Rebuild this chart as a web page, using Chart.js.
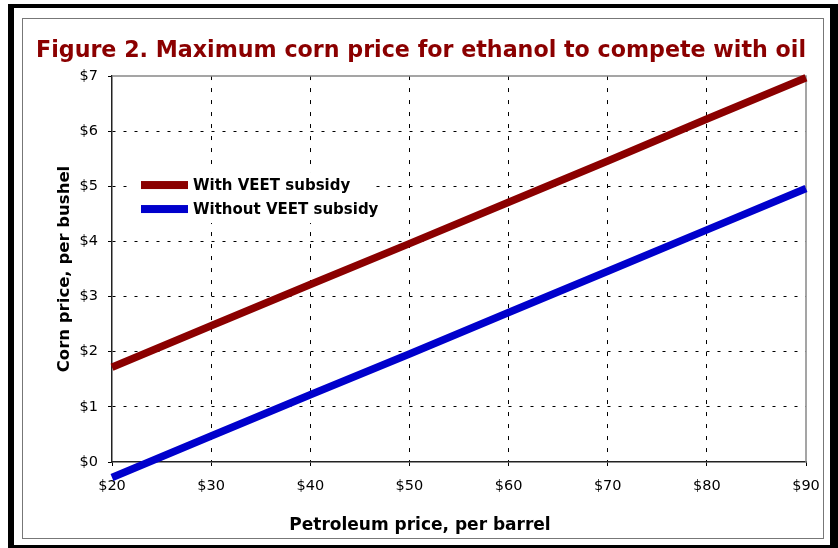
<!DOCTYPE html>
<html>
<head>
<meta charset="utf-8">
<script src="https://cdn.jsdelivr.net/npm/chart.js@4/dist/chart.umd.min.js"></script>
<style>
    body { margin: 0; background: #fff; }
    #outer {
        position: absolute; left: 8px; top: 4px; width: 830px; height: 544px;
        box-sizing: border-box; border-style: solid; border-color: #000;
        border-width: 4px 8px 3px 6px;
    }
    #inner {
        position: absolute; left: 22px; top: 18px; width: 802px; height: 521px;
        box-sizing: border-box; border: 1px solid #777;
    }
    #chart { position: absolute; left: 0; top: 0; }
</style>
</head>
<body>
<div id="outer"></div>
<div id="inner"></div>
<canvas id="chart" width="838" height="548"></canvas>
<script>
// Data
const oilPrices = [20, 30, 40, 50, 60, 70, 80, 90];
const withVeet = [1.72, 2.47, 3.22, 3.96, 4.71, 5.46, 6.22, 6.97];
const withoutVeet = [-0.28, 0.47, 1.22, 1.96, 2.71, 3.46, 4.21, 4.96];
const seriesNames = ['With VEET subsidy', 'Without VEET subsidy'];
const seriesColors = ['#8b0000', '#0000cc'];
const xTitle = 'Petroleum price, per barrel';

const FONT = 'DejaVu Sans, Verdana, sans-serif';

// gray top/right frame of plot area, boxed legend, x title centred on the frame
const plotExtras = {
    id: 'plotExtras',
    beforeDatasetsDraw(chart) {
        const { ctx, chartArea: a } = chart;
        ctx.save();
        ctx.strokeStyle = '#888';
        ctx.lineWidth = 1.5;
        ctx.beginPath();
        ctx.moveTo(a.left, a.top);
        ctx.lineTo(a.right, a.top);
        ctx.lineTo(a.right, a.bottom);
        ctx.stroke();
        ctx.restore();
    },
    afterDraw(chart) {
        const { ctx, chartArea: a } = chart;
        const x0 = a.left + 18, y0 = a.top + 96;
        ctx.save();
        ctx.fillStyle = '#fff';
        ctx.fillRect(x0, y0, 244, 51);
        ctx.font = 'bold 15px ' + FONT;
        ctx.textBaseline = 'middle';
        chart.data.datasets.forEach((ds, i) => {
            const cy = y0 + 13 + i * 24;
            ctx.fillStyle = ds.borderColor;
            ctx.fillRect(x0 + 11, cy - 4, 47, 8);
            ctx.fillStyle = '#000';
            ctx.fillText(ds.label, x0 + 63, cy + 1);
        });

        ctx.font = 'bold 17px ' + FONT;
        ctx.textAlign = 'center';
        ctx.textBaseline = 'alphabetic';
        ctx.fillText(xTitle, 420, 530);
        ctx.restore();
    }
};

const gridColor = (edges) => (c) => (c.tick && edges.includes(c.tick.value)) ? 'rgba(0,0,0,0)' : '#000';

new Chart(document.getElementById('chart'), {
    type: 'line',
    data: {
        datasets: [
            {
                label: seriesNames[0],
                data: oilPrices.map((p, i) => ({ x: p, y: withVeet[i] })),
                borderColor: seriesColors[0],
                borderWidth: 7.5,
                pointRadius: 0,
                clip: false
            },
            {
                label: seriesNames[1],
                data: oilPrices.map((p, i) => ({ x: p, y: withoutVeet[i] })),
                borderColor: seriesColors[1],
                borderWidth: 7.5,
                pointRadius: 0,
                clip: false
            }
        ]
    },
    options: {
        responsive: false,
        animation: false,
        layout: { padding: { left: 36, right: 32, top: 0, bottom: 0 } },
        plugins: {
            legend: { display: false },
            tooltip: { enabled: false },
            title: {
                display: true,
                text: 'Figure 2. Maximum corn price for ethanol to compete with oil',
                color: '#8b0000',
                font: { family: FONT, size: 22.2, weight: 'bold' },
                padding: { top: 38, bottom: 11.4 }
            }
        },
        scales: {
            x: {
                type: 'linear',
                min: 20,
                max: 90,
                afterFit: (s) => { s.height = 86; },
                ticks: {
                    stepSize: 10,
                    padding: 12,
                    color: '#000',
                    font: { family: FONT, size: 14.5 },
                    callback: (v) => '$' + v
                },
                grid: { color: gridColor([20, 90]), tickColor: '#000', tickLength: 4, lineWidth: 1 },
                border: { color: '#222', width: 1.5, dash: [4, 8] }
            },
            y: {
                min: 0,
                max: 7,
                afterFit: (s) => { s.width = 76; },
                ticks: {
                    stepSize: 1,
                    padding: 10,
                    color: '#000',
                    font: { family: FONT, size: 14.5 },
                    callback: (v) => '$' + v
                },
                grid: { color: gridColor([0, 7]), tickColor: '#000', tickLength: 4, lineWidth: 1 },
                border: { color: '#222', width: 1.5, dash: [3, 8] },
                title: {
                    display: true,
                    text: 'Corn price, per bushel',
                    color: '#000',
                    font: { family: FONT, size: 16.5, weight: 'bold' },
                    padding: { top: 19, bottom: 0 }
                }
            }
        }
    },
    plugins: [plotExtras]
});
</script>
</body>
</html>
